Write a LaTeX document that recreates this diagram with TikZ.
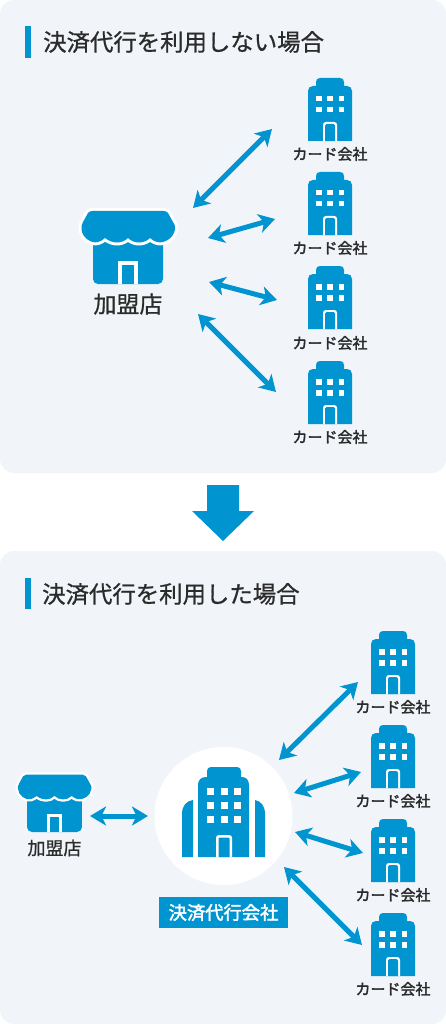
\documentclass[tikz,border=0pt]{standalone}
\usepackage{fontspec}
\setmainfont{Noto Sans CJK JP}
\newfontfamily\jpmed[FakeBold=2.2]{Noto Sans CJK JP}
\newfontfamily\jpsemi[FakeBold=0.8]{Noto Sans CJK JP}
\usetikzlibrary{arrows.meta}
\definecolor{panelbg}{HTML}{F1F5F9}
\definecolor{brand}{HTML}{0095D0}
\definecolor{ink}{HTML}{2B2B2B}
\tikzset{
  panel/.style={fill=panelbg,draw=none,rounded corners=14pt},
  link/.style={draw=brand,line width=5pt,{Stealth[length=16pt,width=19pt,inset=4.5pt]}-{Stealth[length=16pt,width=19pt,inset=4.5pt]}},
  heading/.style={anchor=west,inner sep=0pt,text=ink,font=\jpsemi\fontsize{23.4}{23.4}\selectfont},
  card/.style={inner sep=0pt,text=ink,font=\jpmed\fontsize{15}{15}\selectfont},
  icon/.style={inner sep=0pt,minimum size=0pt,draw=none},
  bar/.style={fill=brand,draw=none},
}
\newcommand{\bldg}[3]{% name, x, bottom y
  \begin{scope}[shift={(#2,#3)}]
    \fill[brand] (-22,0) -- (-22,-50) .. controls (-22,-53) and (-20,-55) .. (-17,-55) -- (-14,-55) -- (-14,-59) .. controls (-14,-61.5) and (-12.5,-63) .. (-10,-63) -- (10,-63) .. controls (12.5,-63) and (14,-61.5) .. (14,-59) -- (14,-55) -- (17,-55) .. controls (20,-55) and (22,-53) .. (22,-50) -- (22,0) -- cycle;
    \foreach \wx in {-14,-2.8,8.5}\foreach \wy in {-45,-34}\fill[white] (\wx,\wy) rectangle ++(5.8,5.5);
    \fill[white] (-7,0) -- (-7,-16) .. controls (-7,-18) and (-6,-19) .. (-4,-19) -- (4,-19) .. controls (6,-19) and (7,-18) .. (7,-16) -- (7,0) -- cycle;
    \fill[brand] (-5,0.2) -- (-5,-15.5) .. controls (-5,-16.5) and (-4.5,-17) .. (-3.5,-17) -- (3.5,-17) .. controls (4.5,-17) and (5,-16.5) .. (5,-15.5) -- (5,0.2) -- cycle;
    \node[icon] (#1) at (0,-30) {};
  \end{scope}}
\newcommand{\shop}[4]{% name, x, bottom y, scale
  \begin{scope}[shift={(#2,#3)},scale=#4]
    \fill[brand,rounded corners=5pt] (-35,-45) rectangle (35,0);
    \fill[white] (-10,0) rectangle (10,-23);
    \fill[brand] (-6,0) rectangle (6,-19);
    \path[fill=brand,preaction={draw=white,line width=#4*6pt,line join=round}]
      (-36,-73) -- (36,-73)
      .. controls (38,-73) and (39,-72) .. (40,-71) -- (45,-62)
      .. controls (47,-59) and (47.5,-57) .. (47,-55)
      .. controls (46,-46) and (36,-40) .. (29,-42)
      .. controls (27,-42.5) and (24,-44) .. (22,-46)
      .. controls (19,-43) and (15,-41.5) .. (11,-41.5)
      .. controls (7,-41.5) and (3,-43) .. (0,-46)
      .. controls (-3,-43) and (-7,-41.5) .. (-11,-41.5)
      .. controls (-15,-41.5) and (-19,-43) .. (-23,-46)
      .. controls (-25,-44) and (-28,-42.5) .. (-30,-42)
      .. controls (-36,-40) and (-46,-46) .. (-46.5,-55)
      .. controls (-47,-57) and (-46.5,-59) .. (-45,-62)
      -- (-40,-71) .. controls (-39,-72) and (-38,-73) .. (-36,-73) -- cycle;
    \node[icon] (#1) at (0,-30) {};
  \end{scope}}
\begin{document}
\begin{tikzpicture}[x=1pt,y=-1pt]
\useasboundingbox (0,0) rectangle (446,1024);
\fill[white] (0,0) rectangle (446,1024);
\path[panel] (0,0) rectangle (446,473);
\path[panel] (0,551) rectangle (446,1024);
% headings
\fill[bar] (25,26) rectangle (31,58);
\node[heading] (h1) at (43,42) {決済代行を利用しない場合};
\fill[bar] (25,578) rectangle (31,609);
\node[heading] (h2) at (42,594) {決済代行を利用した場合};
% big down arrow
\fill[brand] (207,485) -- (239,485) -- (239,511) -- (254,511) -- (223,541) -- (192,511) -- (207,511) -- cycle;
% top group
\shop{shopA}{128}{284}{1}
\node[inner sep=0pt,text=ink,font=\jpsemi\fontsize{23}{23}\selectfont] (shopAt) at (128,304) {加盟店};
\foreach \n/\by/\ty in {a/141/154,b/235/248,c/329/343,d/424/437}{
  \bldg{ca\n}{330}{\by}
  \node[card] (cat\n) at (330,\ty) {カード会社};
}
\coordinate (a1s) at (193,208); \coordinate (a1e) at (272,129);
\coordinate (a2s) at (208,238); \coordinate (a2e) at (275,219);
\coordinate (a3s) at (209,282); \coordinate (a3e) at (277,300);
\coordinate (a4s) at (198,314); \coordinate (a4e) at (276,392);
\foreach \i in {1,2,3,4}\draw[link] (a\i s) -- (a\i e);
% bottom group
\node[circle,fill=white,minimum size=138pt,inner sep=0pt] (hub) at (223.5,816) {};
\shop{shopB}{54.5}{832}{0.785}
\node[inner sep=0pt,text=ink,font=\jpsemi\fontsize{18}{18}\selectfont] (shopBt) at (54.5,848) {加盟店};
% agency building
\fill[brand] (198,857) -- (198,785) .. controls (198,780) and (201,777) .. (206,777) -- (207,777) -- (207,771) .. controls (207,768.5) and (208.5,767) .. (211,767) -- (237,767) .. controls (239.5,767) and (241,768.5) .. (241,771) -- (241,777) -- (242,777) .. controls (246,777) and (249,780) .. (249,785) -- (249,857) -- cycle;
\foreach \wx in {207,220.5,234}\foreach \wy in {788,802,816}\fill[white] (\wx,\wy) rectangle ++(7,7);
\fill[white] (216,857) -- (216,838) .. controls (216,836) and (217,835) .. (219,835) -- (229,835) .. controls (231,835) and (232,836) .. (232,838) -- (232,857) -- cycle;
\fill[brand] (218.5,857.2) -- (218.5,838.5) .. controls (218.5,838) and (219,837.5) .. (219.5,837.5) -- (228.5,837.5) .. controls (229,837.5) and (229.5,838) .. (229.5,838.5) -- (229.5,857.2) -- cycle;
\fill[brand] (193,857) -- (193,800) .. controls (186,801) and (182,806) .. (182,814) -- (182,857) -- cycle;
\fill[brand] (255,857) -- (255,800) .. controls (261,801) and (265,806) .. (265,814) -- (265,857) -- cycle;
\node[fill=brand,text=white,font=\jpmed\fontsize{18.3}{18.3}\selectfont,minimum width=129pt,minimum height=31pt,inner sep=0pt] (agency) at (223.5,912.5) {決済代行会社};
\foreach \n/\by/\ty in {a/694/707,b/788/801,c/882/895,d/976/989}{
  \bldg{cb\n}{393}{\by}
  \node[card] (cbt\n) at (393,\ty) {カード会社};
}
\coordinate (b1s) at (279,760); \coordinate (b1e) at (358,682);
\coordinate (b2s) at (294,793); \coordinate (b2e) at (361,772);
\coordinate (b3s) at (295,832); \coordinate (b3e) at (363,853);
\coordinate (b4s) at (284,867); \coordinate (b4e) at (362,945);
\coordinate (b5s) at (90,816); \coordinate (b5e) at (148,816);
\foreach \i in {1,2,3,4,5}\draw[link] (b\i s) -- (b\i e);
\end{tikzpicture}
\end{document}
